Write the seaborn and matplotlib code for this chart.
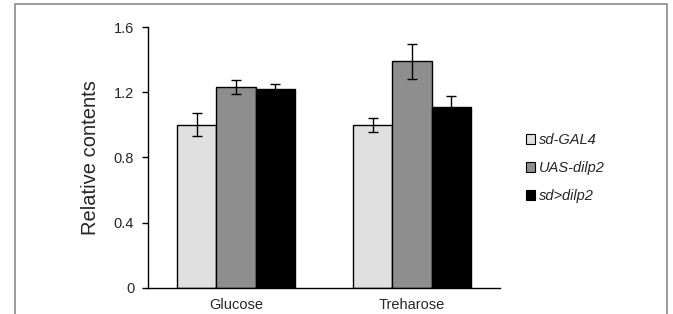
import matplotlib
matplotlib.use("Agg")
import matplotlib.pyplot as plt
import seaborn as sns
import pandas as pd
from matplotlib.patches import Patch, Rectangle

categories = ["Glucose", "Treharose"]
genotypes = ["sd-GAL4", "UAS-dilp2", "sd>dilp2"]
glucose_vals = [1.00, 1.23, 1.22]
treharose_vals = [1.00, 1.39, 1.11]
glucose_err = [0.07, 0.043, 0.03]
treharose_err = [0.042, 0.108, 0.067]
colors = ["#e0e0e0", "#8e8e8e", "#000000"]
yticks = [0, 0.4, 0.8, 1.2, 1.6]
ytick_labels = ["0", "0.4", "0.8", "1.2", "1.6"]

rows = []
for g, v in zip(genotypes, glucose_vals):
    rows.append({"cat": "Glucose", "geno": g, "val": v})
for g, v in zip(genotypes, treharose_vals):
    rows.append({"cat": "Treharose", "geno": g, "val": v})
df = pd.DataFrame(rows)
errs = {("Glucose", g): e for g, e in zip(genotypes, glucose_err)}
errs.update({("Treharose", g): e for g, e in zip(genotypes, treharose_err)})

sns.set_style("white")
plt.rcParams["font.family"] = ["Liberation Sans", "DejaVu Sans"]

fig = plt.figure(figsize=(6.73, 3.14), dpi=100)
ax = fig.add_axes([0.220, 0.083, 0.523, 0.831])

sns.barplot(data=df, x="cat", y="val", hue="geno", order=categories,
            hue_order=genotypes, palette=colors, errorbar=None,
            width=0.67, edgecolor="black", linewidth=1.0, saturation=1,
            legend=False, ax=ax)

for geno, cont in zip(genotypes, ax.containers):
    for cat, bar in zip(categories, cont):
        cx = bar.get_x() + bar.get_width() / 2
        h = bar.get_height()
        ax.errorbar(cx, h, yerr=errs[(cat, geno)], fmt="none",
                    ecolor="black", elinewidth=1.0, capsize=3.5, capthick=1.0,
                    zorder=5)

ax.set_ylim(0, 1.6)
ax.set_xlim(-0.5, 1.5)
ax.set_yticks(yticks)
ax.set_yticklabels(ytick_labels, fontsize=10.5)
ax.set_xticks([0, 1])
ax.set_xticklabels(categories, fontsize=10.5)
ax.set_xticks([-0.5, 0.5, 1.5], minor=True)
ax.tick_params(axis="x", which="major", length=0, pad=7)
ax.tick_params(axis="x", which="minor", length=4, width=1, color="black", direction="out")
ax.tick_params(axis="y", which="major", length=4, width=1, color="black", direction="out", left=True, pad=6)
ax.set_xlabel("")
ax.set_ylabel("Relative contents", fontsize=14.5, labelpad=10)
for s in ["top", "right"]:
    ax.spines[s].set_visible(False)
for s in ["left", "bottom"]:
    ax.spines[s].set_color("black")
    ax.spines[s].set_linewidth(1.0)

handles = [Patch(facecolor=c, edgecolor="black", linewidth=0.8) for c in colors]
leg = fig.legend(handles, genotypes, loc="upper left", bbox_to_anchor=(0.762, 0.617),
                 frameon=False, fontsize=10.5, handlelength=0.65, handleheight=0.65,
                 handletextpad=0.25, labelspacing=0.95)
for t in leg.get_texts():
    t.set_fontstyle("italic")

fig.patches.append(Rectangle((15 / 673, -0.05), (667 - 15) / 673, 1.05 - 4 / 314,
                             transform=fig.transFigure, fill=False,
                             edgecolor="#8a8a8a", linewidth=1.2, clip_on=False))

fig.savefig("out.png", dpi=100)
